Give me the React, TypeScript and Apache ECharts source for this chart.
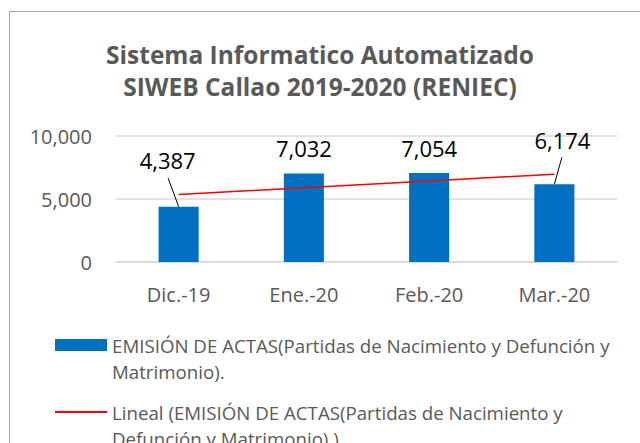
import React, { useEffect, useRef } from "react";
import * as echarts from "echarts";

const titleLines = ["Sistema Informatico Automatizado", "SIWEB Callao 2019-2020 (RENIEC)"];
const categories = ["Dic.-19", "Ene.-20", "Feb.-20", "Mar.-20"];
const actas = [4387, 7032, 7054, 6174];
const yTicks = { min: 0, max: 10000, interval: 5000 };
const barName = "EMISIÓN DE ACTAS(Partidas de Nacimiento y Defunción y Matrimonio).";
const trendName = "Lineal (EMISIÓN DE ACTAS(Partidas de Nacimiento y Defunción y Matrimonio).)";
const legendLines: Record<string, string[]> = {
  [barName]: ["EMISIÓN DE ACTAS(Partidas de Nacimiento y Defunción y", "Matrimonio)."],
  [trendName]: ["Lineal (EMISIÓN DE ACTAS(Partidas de Nacimiento y", "Defunción y Matrimonio).)"],
};

// Excel-style linear trendline (least squares on x = 1..n)
function linearTrend(values: number[]): number[] {
  const n = values.length;
  const xs = values.map((_, i) => i + 1);
  const mx = xs.reduce((a, b) => a + b, 0) / n;
  const my = values.reduce((a, b) => a + b, 0) / n;
  let sxy = 0;
  let sxx = 0;
  for (let i = 0; i < n; i++) {
    sxy += (xs[i] - mx) * (values[i] - my);
    sxx += (xs[i] - mx) * (xs[i] - mx);
  }
  const slope = sxy / sxx;
  return xs.map((x) => Math.round((my + slope * (x - mx)) * 10) / 10);
}

const FONT = "'Open Sans', 'Noto Sans', sans-serif";
const GRAY = "#595959";

export default function App() {
  const ref = useRef<HTMLDivElement>(null);
  useEffect(() => {
    if (!ref.current) return;
    const chart = echarts.init(ref.current, null, { renderer: "svg" });
    const trend = linearTrend(actas);
    // labels that Excel moved away from their bars (label shift, leader-line end offset in px)
    const moved: Record<number, { dx: number; dy: number; lx: number; ly: number }> = {
      0: { dx: -11, dy: -22, lx: -10.5, ly: -28.5 },
      3: { dx: 8, dy: -19, lx: 7.5, ly: -27 },
    };
    const option = {
      animation: false,
      backgroundColor: "#ffffff",
      textStyle: { fontFamily: FONT },
      graphic: [
        {
          type: "rect",
          shape: { x: 9.5, y: 11.5, width: 900, height: 900 },
          style: { fill: "none", stroke: "#a6a6a6", lineWidth: 1 },
          silent: true,
        },
      ],
      title: {
        text: titleLines.join("\n"),
        left: "center",
        top: 33,
        textStyle: {
          fontFamily: FONT,
          fontSize: 24.5,
          fontWeight: "bold",
          color: GRAY,
          lineHeight: 32,
        },
      },
      grid: { left: 116, right: 23, top: 136, bottom: 181 },
      xAxis: {
        type: "category",
        data: categories,
        axisLine: { show: true, lineStyle: { color: "#d9d9d9", width: 1.5 } },
        axisTick: { show: false },
        axisLabel: { color: GRAY, fontSize: 20, margin: 22, fontFamily: FONT },
      },
      yAxis: {
        type: "value",
        min: yTicks.min,
        max: yTicks.max,
        interval: yTicks.interval,
        axisLine: { show: false },
        axisTick: { show: false },
        splitLine: { lineStyle: { color: "#d9d9d9", width: 1.5 } },
        axisLabel: {
          color: GRAY,
          fontSize: 20,
          margin: 24,
          fontFamily: FONT,
          formatter: (v: number) => v.toLocaleString("en-US"),
        },
      },
      legend: {
        orient: "vertical",
        left: 54,
        top: 306,
        height: 300,
        padding: 0,
        itemWidth: 52,
        itemHeight: 12,
        itemGap: -11,
        data: [
          { name: barName, icon: "rect" },
          { name: trendName, itemStyle: { opacity: 0 } },
        ],
        formatter: (name: string) => "\n" + (legendLines[name] || [name]).join("\n"),
        textStyle: {
          color: GRAY,
          fontSize: 18.7,
          fontFamily: FONT,
          lineHeight: 26,
        },
      },
      series: [
        {
          name: barName,
          type: "bar",
          data: actas,
          barCategoryGap: "68%",
          itemStyle: { color: "#0070C0" },
          label: {
            show: true,
            position: "top",
            distance: 14,
            color: "#000000",
            fontSize: 22,
            fontFamily: FONT,
            formatter: (p: any) => Number(p.value).toLocaleString("en-US"),
          },
          labelLayout: (p: any) => {
            const m = moved[p.dataIndex];
            return m ? { dx: m.dx, dy: m.dy } : {};
          },
        },
        {
          name: trendName,
          type: "line",
          data: trend,
          symbol: "none",
          showSymbol: false,
          lineStyle: { color: "#ff0000", width: 1.5 },
          itemStyle: { color: "#ff0000" },
          z: 3,
        },
        {
          name: "leader lines",
          type: "custom",
          data: actas.map((v, i) => [i, v]),
          encode: { x: 0, y: 1 },
          silent: true,
          z: 4,
          renderItem: (params: any, api: any) => {
            const m = moved[params.dataIndex];
            if (!m) return null;
            const p = api.coord([api.value(0), api.value(1)]);
            return {
              type: "line",
              shape: { x1: p[0], y1: p[1], x2: p[0] + m.lx, y2: p[1] + m.ly },
              style: { stroke: "#000000", lineWidth: 1 },
            };
          },
        },
      ],
    };
    chart.setOption(option as any);
    return () => chart.dispose();
  }, []);
  return (
    <div
      ref={ref}
      style={{ position: "absolute", left: 0, top: 0, width: 640, height: 443, background: "#fff" }}
    />
  );
}
